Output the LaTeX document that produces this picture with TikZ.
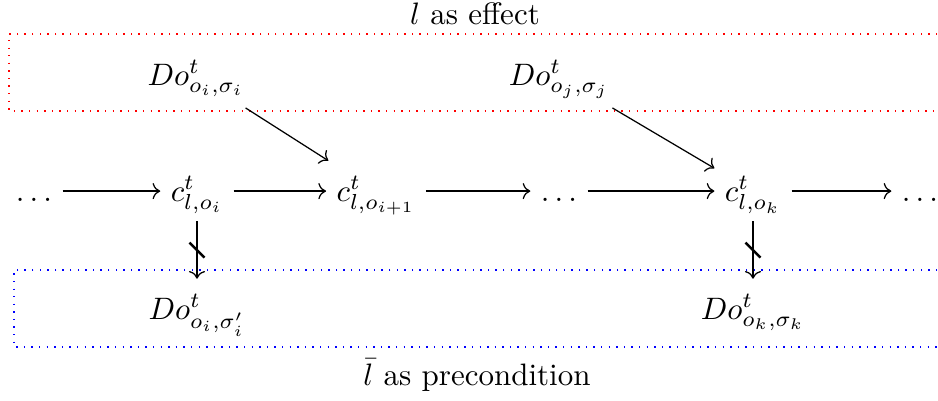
\documentclass[tikz,border=0pt]{standalone}
\usetikzlibrary{cd}
\begin{document}
\begin{tikzpicture}[x=0.3226pt,y=-0.3226pt,
  lbl/.style={anchor=base,inner sep=0pt},
  cell/.style={anchor=base,text height=9.6pt,text depth=3.2pt,inner sep=3.2pt},
  donode/.style={anchor=base,text height=9.6pt,text depth=4pt,inner sep=3.2pt},
  arr/.style={-cm to,line width=0.4pt},
  effbox/.style={draw=red,dotted,line width=0.45pt},
  prebox/.style={draw=blue,dotted,line width=0.45pt},
  slashmark/.style={line width=0.8pt}]
\useasboundingbox (0,0) rectangle (938,400);
\clip (0,0) rectangle (938,400);
% boxes
\draw[effbox] (960,34) -- (9,34) -- (9,111) -- (960,111);
\draw[prebox] (960,270) -- (14,270) -- (14,347) -- (960,347);
% labels
\node[lbl] (eff) at (475,24) {$l$ as effect};
\node[lbl] (pre) at (477,385) {$\bar{l}$ as precondition};
% top row
\node[donode] (doi) at (196,85) {$Do^t_{o_i,\sigma_i}$};
\node[donode] (doj) at (559,85) {$Do^t_{o_j,\sigma_j}$};
% chain
\node[cell] (d1) at (34,201) {$\dots$};
\node[cell] (ci) at (197,201) {$c^t_{l,o_i}$};
\node[cell] (cip) at (376,201) {$c^t_{l,o_{i+1}}$};
\node[cell] (d2) at (559,201) {$\dots$};
\node[cell] (ck) at (753,201) {$c^t_{l,o_k}$};
\node[cell] (d3) at (920,201) {$\dots$};
% bottom row
\node[donode] (doip) at (197,319) {$Do^t_{o_i,\sigma'_i}$};
\node[donode] (dok) at (753,319) {$Do^t_{o_k,\sigma_k}$};
% arrows
\draw[arr] (d1) -- (ci);
\draw[arr] (ci) -- (cip);
\draw[arr] (cip) -- (d2);
\draw[arr] (d2) -- (ck);
\draw[arr] (ck) -- (d3);
\draw[arr] (doi) -- (cip);
\draw[arr] (doj) -- (ck);
\draw[arr] (ci) -- coordinate[pos=0.5] (m1) (doip);
\draw[arr] (ck) -- coordinate[pos=0.5] (m2) (dok);
\draw[slashmark] ([shift={(-7.5,-7.5)}]m1) -- ([shift={(7.5,7.5)}]m1);
\draw[slashmark] ([shift={(-7.5,-7.5)}]m2) -- ([shift={(7.5,7.5)}]m2);
\end{tikzpicture}
\end{document}
